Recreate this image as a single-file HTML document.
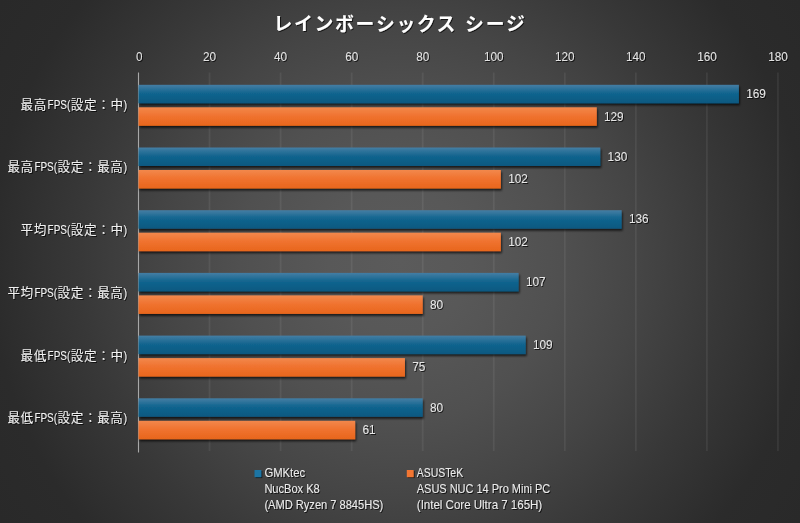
<!DOCTYPE html>
<html lang="ja"><head><meta charset="utf-8"><title>レインボーシックス シージ</title>
<style>
html,body{margin:0;padding:0;background:#2c2c2c;}
body{width:800px;height:523px;overflow:hidden;}
svg{display:block;}
text{font-family:"Liberation Sans","Noto Sans CJK JP",sans-serif;}
.ttl{font-weight:bold;}
</style></head><body>
<svg width="800" height="523" viewBox="0 0 800 523">
<defs>
<radialGradient id="bg" cx="400" cy="261.5" r="478" gradientUnits="userSpaceOnUse">
<stop offset="0" stop-color="#5b5b5b"/>
<stop offset="0.15" stop-color="#585858"/>
<stop offset="0.335" stop-color="#505050"/>
<stop offset="0.502" stop-color="#454545"/>
<stop offset="0.669" stop-color="#383838"/>
<stop offset="0.858" stop-color="#2b2b2b"/>
<stop offset="1" stop-color="#292929"/>
</radialGradient>
<linearGradient id="gb" x1="0" y1="0" x2="0" y2="1">
<stop offset="0" stop-color="#457ea4"/>
<stop offset="0.45" stop-color="#12658f"/>
<stop offset="1" stop-color="#0a5880"/>
</linearGradient>
<linearGradient id="go" x1="0" y1="0" x2="0" y2="1">
<stop offset="0" stop-color="#f2884c"/>
<stop offset="0.45" stop-color="#f07330"/>
<stop offset="1" stop-color="#e8661c"/>
</linearGradient>
<filter id="sh" x="-5%" y="-30%" width="110%" height="180%">
<feGaussianBlur in="SourceAlpha" stdDeviation="1.1"/>
<feOffset dx="1.2" dy="2.2" result="o"/>
<feComponentTransfer><feFuncA type="linear" slope="0.7"/></feComponentTransfer>
<feMerge><feMergeNode/><feMergeNode in="SourceGraphic"/></feMerge>
</filter>
<filter id="ts" x="-10%" y="-30%" width="120%" height="180%">
<feGaussianBlur in="SourceAlpha" stdDeviation="0.7"/>
<feOffset dx="0.9" dy="1.1"/>
<feComponentTransfer><feFuncA type="linear" slope="0.7"/></feComponentTransfer>
<feMerge><feMergeNode/><feMergeNode in="SourceGraphic"/></feMerge>
</filter>
</defs>
<rect x="0" y="0" width="800" height="523" fill="url(#bg)"/>

<g stroke="#ffffff" stroke-opacity="0.065" stroke-width="1.8">
<line x1="209.55" y1="72.5" x2="209.55" y2="451"/>
<line x1="280.60" y1="72.5" x2="280.60" y2="451"/>
<line x1="351.65" y1="72.5" x2="351.65" y2="451"/>
<line x1="422.70" y1="72.5" x2="422.70" y2="451"/>
<line x1="493.75" y1="72.5" x2="493.75" y2="451"/>
<line x1="564.80" y1="72.5" x2="564.80" y2="451"/>
<line x1="635.85" y1="72.5" x2="635.85" y2="451"/>
<line x1="706.90" y1="72.5" x2="706.90" y2="451"/>
<line x1="777.95" y1="72.5" x2="777.95" y2="451"/>
</g>
<line x1="138.5" y1="72.5" x2="138.5" y2="452.5" stroke="#a8a8a8" stroke-width="1.1"/>
<g font-size="12.6" fill="#e2e2e2" text-anchor="middle" filter="url(#ts)">
<text x="139.30" y="60.6" textLength="6.5" lengthAdjust="spacingAndGlyphs">0</text>
<text x="209.55" y="60.6" textLength="13.0" lengthAdjust="spacingAndGlyphs">20</text>
<text x="280.60" y="60.6" textLength="13.0" lengthAdjust="spacingAndGlyphs">40</text>
<text x="351.65" y="60.6" textLength="13.0" lengthAdjust="spacingAndGlyphs">60</text>
<text x="422.70" y="60.6" textLength="13.0" lengthAdjust="spacingAndGlyphs">80</text>
<text x="493.75" y="60.6" textLength="19.5" lengthAdjust="spacingAndGlyphs">100</text>
<text x="564.80" y="60.6" textLength="19.5" lengthAdjust="spacingAndGlyphs">120</text>
<text x="635.85" y="60.6" textLength="19.5" lengthAdjust="spacingAndGlyphs">140</text>
<text x="706.90" y="60.6" textLength="19.5" lengthAdjust="spacingAndGlyphs">160</text>
<text x="777.95" y="60.6" textLength="19.5" lengthAdjust="spacingAndGlyphs">180</text>
</g>
<g filter="url(#sh)">
<rect x="138.5" y="84.80" width="600.37" height="18.5" fill="url(#gb)"/>
<rect x="138.5" y="107.30" width="458.27" height="18.5" fill="url(#go)"/>
<rect x="138.5" y="147.50" width="461.83" height="18.5" fill="url(#gb)"/>
<rect x="138.5" y="170.00" width="362.36" height="18.5" fill="url(#go)"/>
<rect x="138.5" y="210.20" width="483.14" height="18.5" fill="url(#gb)"/>
<rect x="138.5" y="232.70" width="362.36" height="18.5" fill="url(#go)"/>
<rect x="138.5" y="272.90" width="380.12" height="18.5" fill="url(#gb)"/>
<rect x="138.5" y="295.40" width="284.20" height="18.5" fill="url(#go)"/>
<rect x="138.5" y="335.60" width="387.22" height="18.5" fill="url(#gb)"/>
<rect x="138.5" y="358.10" width="266.44" height="18.5" fill="url(#go)"/>
<rect x="138.5" y="398.30" width="284.20" height="18.5" fill="url(#gb)"/>
<rect x="138.5" y="420.80" width="216.70" height="18.5" fill="url(#go)"/>
</g>
<g font-size="12.2" fill="#e6e6e6" filter="url(#ts)">
<text x="746.17" y="98.00" textLength="19.6" lengthAdjust="spacingAndGlyphs">169</text>
<text x="604.07" y="120.60" textLength="19.6" lengthAdjust="spacingAndGlyphs">129</text>
<text x="607.62" y="160.70" textLength="19.6" lengthAdjust="spacingAndGlyphs">130</text>
<text x="508.16" y="183.30" textLength="19.6" lengthAdjust="spacingAndGlyphs">102</text>
<text x="628.94" y="223.40" textLength="19.6" lengthAdjust="spacingAndGlyphs">136</text>
<text x="508.16" y="246.00" textLength="19.6" lengthAdjust="spacingAndGlyphs">102</text>
<text x="525.92" y="286.10" textLength="19.6" lengthAdjust="spacingAndGlyphs">107</text>
<text x="430.00" y="308.70" textLength="13.1" lengthAdjust="spacingAndGlyphs">80</text>
<text x="533.02" y="348.80" textLength="19.6" lengthAdjust="spacingAndGlyphs">109</text>
<text x="412.24" y="371.40" textLength="13.1" lengthAdjust="spacingAndGlyphs">75</text>
<text x="430.00" y="411.50" textLength="13.1" lengthAdjust="spacingAndGlyphs">80</text>
<text x="362.50" y="434.10" textLength="13.1" lengthAdjust="spacingAndGlyphs">61</text>
</g>
<g fill="#f0f0f0" filter="url(#ts)">
<text y="108.70"><tspan x="20.60" font-size="12.6" letter-spacing="0.5999999999999996">最高</tspan><tspan x="47.60" font-size="12.3" textLength="22.6" lengthAdjust="spacingAndGlyphs">FPS(</tspan><tspan x="70.80" font-size="12.6" letter-spacing="0.5999999999999996">設定：中</tspan><tspan x="123.50" font-size="12.3" textLength="3.6" lengthAdjust="spacingAndGlyphs">)</tspan></text>
<text y="171.40"><tspan x="7.40" font-size="12.6" letter-spacing="0.5999999999999996">最高</tspan><tspan x="34.40" font-size="12.3" textLength="22.6" lengthAdjust="spacingAndGlyphs">FPS(</tspan><tspan x="57.60" font-size="12.6" letter-spacing="0.5999999999999996">設定：最高</tspan><tspan x="123.50" font-size="12.3" textLength="3.6" lengthAdjust="spacingAndGlyphs">)</tspan></text>
<text y="234.10"><tspan x="20.60" font-size="12.6" letter-spacing="0.5999999999999996">平均</tspan><tspan x="47.60" font-size="12.3" textLength="22.6" lengthAdjust="spacingAndGlyphs">FPS(</tspan><tspan x="70.80" font-size="12.6" letter-spacing="0.5999999999999996">設定：中</tspan><tspan x="123.50" font-size="12.3" textLength="3.6" lengthAdjust="spacingAndGlyphs">)</tspan></text>
<text y="296.80"><tspan x="7.40" font-size="12.6" letter-spacing="0.5999999999999996">平均</tspan><tspan x="34.40" font-size="12.3" textLength="22.6" lengthAdjust="spacingAndGlyphs">FPS(</tspan><tspan x="57.60" font-size="12.6" letter-spacing="0.5999999999999996">設定：最高</tspan><tspan x="123.50" font-size="12.3" textLength="3.6" lengthAdjust="spacingAndGlyphs">)</tspan></text>
<text y="359.50"><tspan x="20.60" font-size="12.6" letter-spacing="0.5999999999999996">最低</tspan><tspan x="47.60" font-size="12.3" textLength="22.6" lengthAdjust="spacingAndGlyphs">FPS(</tspan><tspan x="70.80" font-size="12.6" letter-spacing="0.5999999999999996">設定：中</tspan><tspan x="123.50" font-size="12.3" textLength="3.6" lengthAdjust="spacingAndGlyphs">)</tspan></text>
<text y="422.20"><tspan x="7.40" font-size="12.6" letter-spacing="0.5999999999999996">最低</tspan><tspan x="34.40" font-size="12.3" textLength="22.6" lengthAdjust="spacingAndGlyphs">FPS(</tspan><tspan x="57.60" font-size="12.6" letter-spacing="0.5999999999999996">設定：最高</tspan><tspan x="123.50" font-size="12.3" textLength="3.6" lengthAdjust="spacingAndGlyphs">)</tspan></text>
</g>
<text class="ttl" x="273.4" y="30.5" font-size="18.8" fill="#ffffff" filter="url(#ts)"><tspan letter-spacing="1.75">レインボー</tspan><tspan letter-spacing="1.55">シックス </tspan><tspan dx="1.4" letter-spacing="1.9">シージ</tspan></text>
<g filter="url(#ts)">
<rect x="254.5" y="470" width="6.8" height="7.1" fill="#1a74a4"/>
<rect x="406.8" y="470" width="6.8" height="7.1" fill="#f27632"/>
<g font-size="12.4" fill="#ebebeb">
<text x="264.4" y="477.20" textLength="40.7" lengthAdjust="spacingAndGlyphs">GMKtec</text>
<text x="264.4" y="493.00" textLength="55.3" lengthAdjust="spacingAndGlyphs">NucBox K8</text>
<text x="264.4" y="508.80" textLength="118.9" lengthAdjust="spacingAndGlyphs">(AMD Ryzen 7 8845HS)</text>
<text x="416.8" y="477.20" textLength="46.3" lengthAdjust="spacingAndGlyphs">ASUSTeK</text>
<text x="416.8" y="493.00" textLength="133.4" lengthAdjust="spacingAndGlyphs">ASUS NUC 14 Pro Mini PC</text>
<text x="416.8" y="508.80" textLength="125.4" lengthAdjust="spacingAndGlyphs">(Intel Core Ultra 7 165H)</text>
</g></g>
</svg></body></html>
